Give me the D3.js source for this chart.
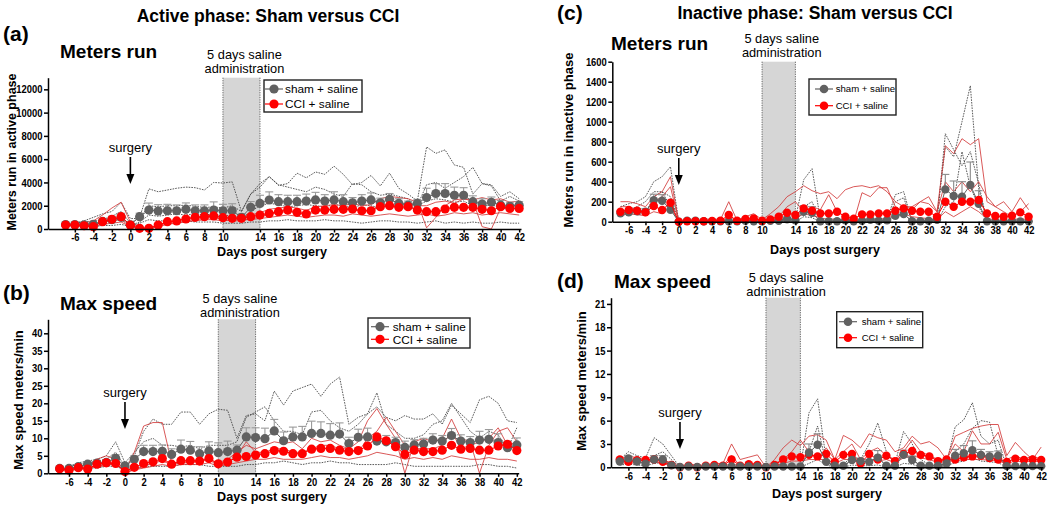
<!DOCTYPE html>
<html><head><meta charset="utf-8">
<script src="https://cdn.jsdelivr.net/npm/d3@7"></script>
<style>body{margin:0;background:#fff}svg{display:block}text{font-family:"Liberation Sans",Arial,sans-serif}</style>
</head><body>
<svg id="c" width="1050" height="505"></svg>
<script>
// ---------- categories / ticks ----------
const DAYS = [-7,-6,-5,-4,-3,-2,-1,0,1,2,3,4,5,6,7,8,9,10,11,12,13,14,15,16,17,18,19,20,21,22,23,24,25,26,27,28,29,30,31,32,33,34,35,36,37,38,39,40,41,42];
const X_TICKS = [-6,-4,-2,0,2,4,6,8,10,14,16,18,20,22,24,26,28,30,32,34,36,38,40,42];
const Y_TICKS_A = [0,2000,4000,6000,8000,10000,12000];
const Y_TICKS_B = [0,5,10,15,20,25,30,35,40];
const Y_TICKS_C = [0,200,400,600,800,1000,1200,1400,1600];
const Y_TICKS_D = [0,3,6,9,12,15,18,21];
const GROUPS = ["sham + saline","CCI + saline"];

// ---------- (a) active phase, meters run ----------
const A_SHAM = [380,380,350,400,650,800,1000,350,1060,1630,
 1540,1570,1570,1690,1570,1570,1630,1570,1570,1000,
 1860,2200,2490,2350,2350,2350,2400,2500,2400,2500,
 2350,2250,2400,2500,2250,2550,2200,2050,2200,2700,
 3050,3050,2900,2900,2350,2150,2300,2050,1950,2050];
const A_SHAM_SEM = [100,100,120,150,250,300,350,150,300,600,
 550,550,500,550,500,500,700,550,600,300,
 500,700,700,600,550,550,600,650,550,700,
 600,450,550,600,400,500,400,350,350,800,
 850,850,700,650,500,450,450,400,350,300];
const A_CCI = [340,340,280,200,630,830,1060,340,60,60,
 340,630,690,860,1000,1060,1120,970,920,920,
 1060,1200,1340,1490,1630,1430,1290,1630,1630,1690,
 1690,1720,1570,1570,1920,2000,1860,1920,1630,1490,
 1490,1720,1860,1860,1860,1690,1570,1920,1770,1770];
const A_SHAM_ANIMALS = [
 [450,500,600,700,800,1100,1500,500,1000,3450,
  3200,3350,3500,3600,3550,3350,4000,3950,4050,1500,
  3000,3600,4500,3750,3900,4800,4400,4900,4700,5400,
  4700,3800,4000,4600,3700,4800,3500,3000,2400,7050,
  6500,6800,5500,5300,3000,3900,3800,2800,3200,2600],
 [400,500,700,1000,1300,1500,2300,900,900,2000,
  1900,2000,2000,2050,1950,1850,1900,1800,2000,1500,
  3000,3900,4500,3800,3600,3400,3200,3600,3400,3000,
  2800,3900,3800,3200,2900,3000,2800,2600,2000,3800,
  4000,3500,4000,4500,5300,3900,3700,2400,2800,2400],
 [300,300,250,200,300,300,400,200,500,800,
  700,700,600,700,600,600,600,500,500,500,
  600,600,700,700,800,700,700,700,800,700,
  700,600,500,600,700,700,600,600,500,600,
  700,500,600,500,600,500,500,600,500,500],
 [350,400,450,500,600,700,900,300,600,1200,
  1100,1200,1300,1200,1300,1200,1300,1100,1200,900,
  1500,2000,2200,2100,1900,2000,2100,2000,1900,2100,
  2000,1800,2100,2000,1800,2200,1900,1700,2000,2400,
  2600,2500,2300,2400,2000,1900,2100,1800,1700,1800]];
const A_CCI_ANIMALS = [
 [300,400,500,700,1200,1800,2300,600,100,100,
  300,600,700,900,1000,1100,1200,1000,1000,1000,
  1200,1400,1700,1800,1900,1800,1600,1900,2000,2100,
  2000,2200,2000,2100,2600,2800,2700,2600,2300,100,
  1000,2000,2500,2600,2500,2700,2500,2600,2300,2400],
 [400,300,300,300,600,700,800,200,0,0,
  200,400,500,700,800,900,1000,800,700,700,
  900,1000,1300,1400,1500,1400,1200,1500,1600,1700,
  1800,1600,1600,1500,2200,2000,2100,2300,2000,2000,
  2300,2400,2200,2600,2400,200,0,1800,2000,2100],
 [300,300,200,200,400,500,600,200,0,0,
  300,500,500,600,700,800,800,700,800,800,
  800,900,1000,1100,1200,1100,1000,1100,1200,1200,
  1100,1300,1200,1100,1200,1300,1200,1100,1200,1300,
  1100,1200,1400,1300,1400,1200,1300,1400,1300,1200]];

// ---------- (b) active phase, max speed ----------
const B_SHAM = [1.4,1.4,1.9,2.6,2.9,3.1,4.3,2.1,4.0,6.2,
 6.2,6.3,5.4,6.9,6.6,5.6,6.4,5.9,6.2,6.6,
 10.4,10.2,9.9,12.1,9.3,10.4,10.4,11.4,11.4,10.9,
 11.2,8.5,10.3,10.4,9.2,9.0,8.8,7.4,8.1,8.4,
 9.5,9.2,10.8,9.2,8.8,9.5,9.7,8.8,7.3,8.1];
const B_SHAM_SEM = [0.3,0.3,0.4,0.5,0.6,0.8,1.0,0.5,1.0,1.8,
 1.8,1.8,1.6,2.6,2.5,2.0,2.6,2.8,3.0,1.5,
 2.6,2.8,3.0,3.3,2.5,2.8,3.0,3.5,3.3,3.3,
 3.2,1.8,2.3,2.5,2.0,1.8,1.5,1.8,1.5,1.6,
 1.8,1.6,2.0,1.8,1.7,2.5,2.8,2.5,1.8,2.0];
const B_CCI = [1.3,0.9,1.6,1.2,2.6,3.0,2.8,0.5,1.7,2.8,
 3.3,4.2,2.6,3.6,3.6,3.5,4.2,2.7,3.2,4.6,
 4.8,5.2,5.6,6.5,6.3,5.6,5.6,6.9,7.1,7.1,
 6.6,6.2,6.5,7.8,10.4,9.3,7.6,5.4,6.6,6.2,
 6.2,6.6,8.0,6.9,7.1,6.6,6.6,7.8,8.3,6.5];
const B_SHAM_ANIMALS = [
 [1.5,2,2.5,3,3.5,4,6,2,5,12,
  15.5,14,14,17.5,17.5,14,17,18.3,18,10,
  16.5,17,15,23.5,19.5,23.5,24.5,25.5,22,25.5,
  27.5,14,16,17,19,16,15,16.5,15.5,15.5,
  17,14,19.5,17,14.5,21,22,20,15,14.5],
 [1,2,3,3.5,4,5,9,3,6,9,
  10,8,8,7.5,8,7,8,8,8,9,
  16,17.5,19,15,12,12,11,17.5,18,15,
  13,12,14,17,23,14,12,10,10,11,
  14,15,20,16,12,10,12,11,7,13],
 [1,1,1,1.5,1.5,2,2,1,1.5,2,
  2,2,2,2.5,2.5,2.5,2,2,2,2,
  2.5,2.5,3,3,3.5,3,2.5,3,3,3.5,
  3,3,2.5,2.5,2.5,2.5,3,2.5,2,2,
  2,2,2,2,2,2.5,2.5,2,2,1.5]];
const B_CCI_ANIMALS = [
 [1.5,1,1.5,2,4,5,4,0.5,6,13.5,
  14.5,14.5,3,3,3.5,3.5,4,3,4,6,
  8,7,8,9,8.5,9,7,10,9,9.5,
  8,7,9,15,18.5,14,10,0,9,10,
  9,10,15.5,10,9,0,8,12,13,9],
 [1,1,2,1.5,2,2.5,3,0,1,2,
  3,3.5,2.5,3,3,3.5,4,2,3,5,
  9,6,6,7,7,6,6,7,8,8,
  7,7,6,10,12,16,12,8,7,7,
  7,8,12,7,8,9,10,13,8,9],
 [1,1,1.5,1.5,2,2,3,0.5,1,1.5,
  2,2.5,2,2.5,2.5,2.5,3,2,2.5,3,
  3.5,4,4,4.5,4,4,4,4.5,5,4.5,
  4.5,4,4.5,5,6,5.5,5,4,4.5,4,
  4.5,4,5,4.5,4,4,4.5,4,4,3.5]];

// ---------- (c) inactive phase, meters run ----------
const C_SHAM = [85,95,105,100,215,210,120,0,10,10,
 5,5,5,3,5,10,5,3,10,10,
 25,15,100,90,5,5,5,15,5,10,
 20,10,15,60,77,5,5,10,20,323,
 257,250,367,180,5,3,3,5,3,3];
const C_SHAM_SEM = [20,25,25,30,60,60,40,0,5,5,
 3,3,3,2,3,5,3,2,5,5,
 10,8,60,60,3,3,3,8,3,5,
 8,5,8,30,45,3,3,5,10,150,
 150,150,230,130,3,2,2,3,2,2];
const C_CCI = [100,117,110,93,157,117,190,0,5,5,
 5,8,10,67,10,27,33,10,23,50,
 90,67,133,110,83,83,100,50,30,73,
 73,83,83,110,133,110,100,100,50,200,
 150,200,200,217,83,57,50,60,93,50];
const C_SHAM_ANIMALS = [
 [150,180,200,250,400,450,550,0,0,0,
  0,0,0,0,0,0,0,0,10,0,
  50,30,420,530,20,10,0,20,0,10,
  10,0,20,270,300,0,0,20,0,880,
  720,560,700,380,0,0,0,0,0,0],
 [100,120,150,200,300,300,250,0,20,10,
  10,0,10,10,0,20,10,0,10,20,
  30,20,150,200,0,0,10,30,0,0,
  40,20,10,200,240,0,10,0,50,750,
  650,1000,1360,330,0,10,0,10,0,10],
 [60,80,70,80,250,300,150,0,0,0,
  0,0,0,0,0,0,0,0,0,0,
  0,0,50,40,0,0,0,0,0,0,
  0,0,0,50,80,0,0,0,0,150,
  200,700,350,150,0,0,0,0,0,0]];
const C_CCI_ANIMALS = [
 [200,200,180,150,250,300,450,0,0,0,
  0,10,20,200,10,50,80,20,80,150,
  250,300,360,310,280,300,230,320,350,360,
  340,360,300,200,150,150,200,250,100,760,
  680,830,770,830,200,150,200,100,240,120],
 [150,150,120,100,200,250,350,0,0,0,
  0,0,0,50,0,20,30,0,30,50,
  150,200,100,150,120,270,100,50,0,290,
  250,340,340,150,100,120,200,180,100,400,
  300,400,300,400,250,150,100,50,100,180],
 [60,80,70,60,100,80,150,0,0,0,
  0,0,0,20,0,10,10,0,0,10,
  20,30,80,60,40,20,30,10,0,20,
  30,20,40,60,80,50,40,30,20,100,
  50,100,150,100,30,20,10,20,30,20]];

// ---------- (d) inactive phase, max speed ----------
const D_SHAM = [0.75,1.15,0.75,0.45,1.0,1.0,0.25,0.05,0.1,0.05,
 0.1,0.1,0.1,0.1,0.1,0.1,0.1,0.05,0.1,0.1,
 0.1,0.1,1.9,2.9,0.7,0.2,0.2,0.95,0.8,0.7,
 1.25,0.2,0.2,1.6,0.95,0.2,0.2,0.2,0.5,1.5,
 1.8,2.2,1.6,1.4,1.5,0.15,0.15,0.15,0.15,0.15];
const D_SHAM_SEM = [0.2,0.3,0.3,0.2,0.5,0.5,0.3,0.05,0.05,0.05,
 0.05,0.05,0.05,0.05,0.05,0.05,0.05,0.05,0.05,0.05,
 0.05,0.05,1.1,1.4,0.2,0.1,0.1,0.4,0.3,0.3,
 0.9,0.1,0.1,0.6,0.5,0.1,0.1,0.1,0.2,0.8,
 1.0,1.2,0.7,0.6,0.6,0.05,0.05,0.05,0.05,0.05];
const D_CCI = [1.0,0.7,0.9,0.95,1.0,0.7,0.3,0.0,0.2,0.0,
 0.2,0.3,0.2,1.0,0.2,0.4,0.3,0.0,0.3,1.0,
 1.4,1.3,1.6,1.4,1.7,0.7,1.6,1.7,0.5,1.7,
 1.0,1.5,0.8,1.7,2.1,1.6,1.4,0.8,1.0,1.0,
 1.3,1.4,1.5,1.2,1.0,0.7,1.1,0.95,1.0,0.95];
const D_SHAM_ANIMALS = [
 [1.0,2.0,1.5,1.2,3.8,3.0,1.5,0,0.1,0,
  0.1,0,0.1,0,0.1,0,0.1,0,0.1,0.1,
  0.2,0,7.0,8.8,1.0,0,0.3,1.5,1.0,3.0,
  5.7,2.0,0.5,4.6,3.0,1.0,0.3,0.2,0.5,5.2,
  6.1,8.3,4.0,3.0,3.5,0,0,0.2,0,0],
 [0.5,1.0,0.8,1.0,1.5,2.0,1.0,0,0,0.1,
  0,0.1,0,0.1,0,0.1,0,0,0,0.1,
  0.1,0.2,2.0,5.3,0.5,0.2,0,1.0,0.5,0.5,
  1.5,0,0.2,2.0,1.0,0.2,0,0.1,0.3,2.0,
  3.0,5.0,6.0,5.8,1.5,0.1,0.1,0,0.1,0.1],
 [0.3,0.4,0.3,0.2,0.5,0.6,0.2,0,0,0,
  0,0,0,0,0,0,0,0,0,0,
  0,0,0.5,1.0,0.3,0,0,0.3,0.2,0.2,
  0.3,0,0,0.5,0.4,0,0,0,0.2,0.6,
  0.8,1.2,0.8,0.7,0.6,0,0,0,0,0]];
const D_CCI_ANIMALS = [
 [1.0,1.5,1.2,1.0,1.0,1.0,0.5,0,0.5,0.2,
  0.3,0.5,0.5,3.0,1.0,1.3,1.6,0,1.0,2.5,
  3.5,2.8,4.0,4.2,3.5,1.0,4.1,3.5,2.5,4.3,
  3.8,3.5,2.0,2.5,4.0,3.0,3.3,2.5,1.0,4.0,
  4.5,5.0,5.3,5.5,5.5,1.5,3.2,2.0,1.0,2.6],
 [0.8,0.7,1.0,0.8,1.0,1.0,0.5,0,0.2,0,
  0.2,0.2,0.2,1.5,0.2,0.5,0.5,0,0.5,1.0,
  2.0,3.5,2.0,1.0,2.5,1.0,2.0,3.0,1.0,2.0,
  2.5,1.5,1.0,2.0,3.5,2.0,1.5,1.0,1.0,3.0,
  2.0,4.7,3.0,3.0,4.5,1.0,1.5,1.0,1.5,1.0],
 [0.6,0.5,0.6,0.7,0.7,0.5,0.2,0,0,0,
  0.1,0.1,0.1,0.5,0.1,0.2,0.2,0,0.2,0.5,
  0.8,0.8,1.0,1.0,1.0,0.5,1.0,1.0,0.4,1.0,
  0.8,1.0,0.6,1.2,1.5,1.2,1.0,0.6,0.8,0.8,
  1.0,1.0,1.0,0.9,0.8,0.5,0.8,0.7,0.8,0.7]];

// ---------- drawing ----------
const svg = d3.select("#c");
const GRAY = "#616161", RED = "#ff0000";
const FONT = "'Liberation Sans', Arial, sans-serif";
const plainNum = d => (d < 0 ? "-" + (-d) : String(d));

function txt(g, x, y, s, size, opt) {
  opt = opt || {};
  const t = g.append("text").attr("x", x).attr("y", y).text(s)
    .attr("font-size", size).attr("fill", "#000")
    .attr("font-weight", opt.bold ? "bold" : "normal")
    .attr("text-anchor", opt.anchor || "start");
  if (opt.rot) t.attr("transform", `rotate(-90 ${x} ${y})`);
  return t;
}

function panel(c) {
  const x = d3.scaleLinear().domain(c.xd).range(c.xr);
  const y = d3.scaleLinear().domain(c.yd).range(c.yr);
  const g = svg.append("g");
  const top = c.yr[1], bot = c.yr[0];

  // saline administration window
  g.append("rect").attr("x", x(10)).attr("y", top).attr("width", x(14) - x(10))
    .attr("height", bot - top).attr("fill", "#d6d6d6");
  [10, 14].forEach(d => g.append("line").attr("x1", x(d)).attr("x2", x(d))
    .attr("y1", top).attr("y2", bot).attr("stroke", "#444")
    .attr("stroke-width", 0.8).attr("stroke-dasharray", "1.2,1.2"));

  const line = d3.line().x((d, i) => x(DAYS[i])).y(d => y(d));
  c.shamInd.forEach(a => g.append("path").attr("d", line(a)).attr("fill", "none")
    .attr("stroke", "#3c3c3c").attr("stroke-width", 0.85).attr("stroke-dasharray", "1.6,1.1"));
  c.cciInd.forEach(a => g.append("path").attr("d", line(a)).attr("fill", "none")
    .attr("stroke", "#d23a3a").attr("stroke-width", 0.85));

  // error bars (sham, upper)
  const eb = g.append("g").attr("stroke", c.ebColor).attr("stroke-width", 1.1);
  c.sham.forEach((v, i) => {
    const xx = x(DAYS[i]), y0 = y(v), y1 = y(v + c.sem[i]);
    eb.append("line").attr("x1", xx).attr("x2", xx).attr("y1", y0).attr("y2", y1);
    eb.append("line").attr("x1", xx - 4).attr("x2", xx + 4).attr("y1", y1).attr("y2", y1);
  });

  function means(arr, col) {
    g.append("path").attr("d", line(arr)).attr("fill", "none").attr("stroke", col).attr("stroke-width", 1);
    g.append("g").selectAll("circle").data(arr).join("circle")
      .attr("cx", (d, i) => x(DAYS[i])).attr("cy", d => y(d)).attr("r", c.r).attr("fill", col);
  }
  if (c.grayOnTop) { means(c.cci, RED); means(c.sham, GRAY); }
  else { means(c.sham, GRAY); means(c.cci, RED); }

  // axes
  const ax = g.append("g").attr("transform", `translate(0,${bot})`)
    .call(d3.axisBottom(x).tickValues(X_TICKS).tickFormat(plainNum).tickSize(3.5).tickSizeOuter(0).tickPadding(1));
  const ay = g.append("g").attr("transform", `translate(${c.xr[0]},0)`)
    .call(d3.axisLeft(y).tickValues(c.yt).tickFormat(plainNum).tickSize(4).tickSizeOuter(0).tickPadding(1.5));
  [ax, ay].forEach(a => {
    a.attr("font-family", FONT).attr("font-size", 11.2).attr("font-weight", "bold");
    a.selectAll("path,line").attr("stroke", "#000").attr("stroke-width", 1.5);
    a.selectAll("text").attr("fill", "#000").each(function () {
      const w = this.getComputedTextLength();
      d3.select(this).attr("textLength", w * 0.84).attr("lengthAdjust", "spacingAndGlyphs");
    });
  });

  // annotations
  const mid = (x(10) + x(14)) / 2 + 3;
  txt(g, mid, c.salY, "5 days saline", 12.8, {anchor: "middle"});
  txt(g, mid, c.salY + 14, "administration", 12.8, {anchor: "middle"});
  txt(g, x(0), c.surgY, "surgery", 13, {anchor: "middle"});
  g.append("line").attr("x1", x(0)).attr("x2", x(0)).attr("y1", c.surgY + 5).attr("y2", c.surgY + 26)
    .attr("stroke", "#000").attr("stroke-width", 1.6);
  g.append("path").attr("d", `M${x(0) - 4},${c.surgY + 22} L${x(0) + 4},${c.surgY + 22} L${x(0)},${c.surgY + 32} Z`).attr("fill", "#000");

  txt(g, c.xtX, c.xtY, "Days post surgery", 12.6, {anchor: "middle", bold: true});
  txt(g, c.ytX, c.ytY, c.ytitle, c.ytSize, {anchor: "middle", bold: true, rot: true});
  txt(g, c.letX, c.letY, c.letter, 21, {bold: true});
  txt(g, c.subX, c.subY, c.sub, 19, {bold: true});

  // legend
  const L = c.leg;
  g.append("rect").attr("x", L.x).attr("y", L.y).attr("width", L.w).attr("height", L.h)
    .attr("fill", "#fff").attr("stroke", "#222").attr("stroke-width", 1.4);
  [[GRAY, L.y1], [RED, L.y2]].forEach(([col, yy], k) => {
    g.append("line").attr("x1", L.mx - 9).attr("x2", L.mx + 9).attr("y1", yy).attr("y2", yy)
      .attr("stroke", col).attr("stroke-width", 1.2);
    g.append("circle").attr("cx", L.mx).attr("cy", yy).attr("r", L.r).attr("fill", col);
    txt(g, L.tx, yy + L.fs * 0.36, GROUPS[k], L.fs);
  });
}

// phase titles
txt(svg, 268, 22, "Active phase: Sham versus CCI", 17.5, {anchor: "middle", bold: true});
txt(svg, 815, 19, "Inactive phase: Sham versus CCI", 17.5, {anchor: "middle", bold: true});

panel({xd: [-8.9, 42.2], xr: [48, 521], yd: [0, 13000], yr: [229, 77.7], yt: Y_TICKS_A,
  sham: A_SHAM, sem: A_SHAM_SEM, cci: A_CCI, shamInd: A_SHAM_ANIMALS, cciInd: A_CCI_ANIMALS,
  r: 4.6, ebColor: "#9a9a9a", grayOnTop: false,
  salY: 59, surgY: 152, xtX: 272, xtY: 256, ytX: 16, ytY: 152, ytitle: "Meters run in active phase", ytSize: 12.5,
  letter: "(a)", letX: 3, letY: 41, sub: "Meters run", subX: 60, subY: 58,
  leg: {x: 264, y: 80, w: 98, h: 32, mx: 274, y1: 89, y2: 104, tx: 285, fs: 11.8, r: 4.6}});

panel({xd: [-8.25, 42.2], xr: [48, 518.7], yd: [0, 44], yr: [473.3, 319.3], yt: Y_TICKS_B,
  sham: B_SHAM, sem: B_SHAM_SEM, cci: B_CCI, shamInd: B_SHAM_ANIMALS, cciInd: B_CCI_ANIMALS,
  r: 4.6, ebColor: "#9a9a9a", grayOnTop: false,
  salY: 303, surgY: 397, xtX: 272, xtY: 500.5, ytX: 23, ytY: 400, ytitle: "Max speed meters/min", ytSize: 13,
  letter: "(b)", letX: 3, letY: 300, sub: "Max speed", subX: 60, subY: 310,
  leg: {x: 368, y: 318, w: 102, h: 30, mx: 380, y1: 326.7, y2: 339.3, tx: 392.7, fs: 11.8, r: 4.6}});

panel({xd: [-7.98, 42.2], xr: [612.3, 1030.3], yd: [0, 1600], yr: [221.7, 61.7], yt: Y_TICKS_C,
  sham: C_SHAM, sem: C_SHAM_SEM, cci: C_CCI, shamInd: C_SHAM_ANIMALS, cciInd: C_CCI_ANIMALS,
  r: 4.2, ebColor: "#8a8a8a", grayOnTop: false,
  salY: 43, surgY: 153, xtX: 825, xtY: 254, ytX: 573, ytY: 140, ytitle: "Meters run in inactive phase", ytSize: 13,
  letter: "(c)", letX: 557, letY: 20, sub: "Meters run", subX: 611, subY: 50,
  leg: {x: 809, y: 79, w: 87, h: 36, mx: 824, y1: 89, y2: 105.7, tx: 835.7, fs: 9.6, r: 4.3}});

panel({xd: [-8.02, 42.2], xr: [611, 1042.9], yd: [0, 21.8], yr: [467.3, 297.7], yt: Y_TICKS_D,
  sham: D_SHAM, sem: D_SHAM_SEM, cci: D_CCI, shamInd: D_SHAM_ANIMALS, cciInd: D_CCI_ANIMALS,
  r: 4.2, ebColor: "#8a8a8a", grayOnTop: true,
  salY: 282, surgY: 417, xtX: 827, xtY: 498, ytX: 586, ytY: 381, ytitle: "Max speed meters/min", ytSize: 13,
  letter: "(d)", letX: 557, letY: 288, sub: "Max speed", subX: 614, subY: 288,
  leg: {x: 836.7, y: 311.7, w: 86, h: 36, mx: 848, y1: 321.7, y2: 337.7, tx: 861.7, fs: 9.6, r: 4.3}});
</script>
</body></html>
